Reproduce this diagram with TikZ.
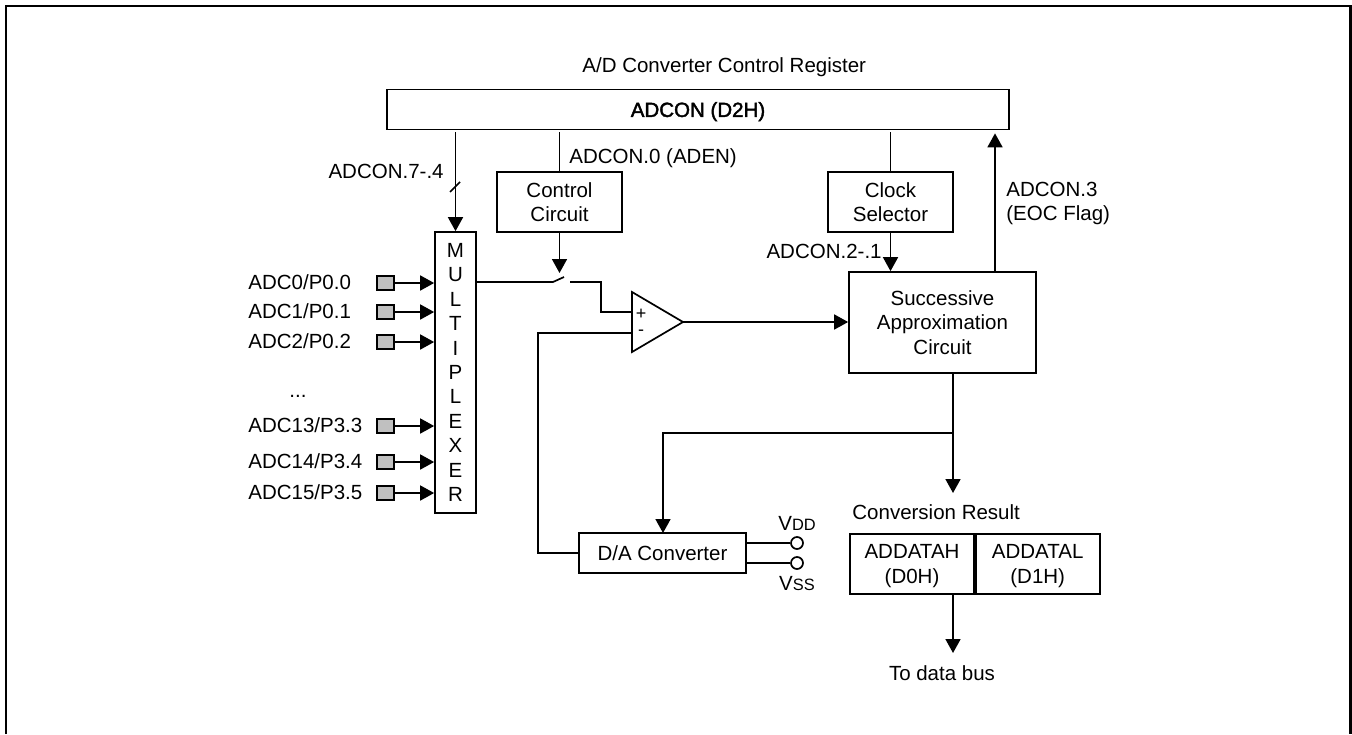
\documentclass[tikz,border=0pt]{standalone}
\usepackage{fontspec}
\setmainfont{Liberation Sans}
\newfontfamily\fakebold[FakeBold=2]{Liberation Sans}
\usetikzlibrary{arrows.meta,positioning}
\definecolor{pingray}{RGB}{192,192,192}
\newcommand{\lowcap}[1]{{\fontsize{8.2}{10}\selectfont #1}}

\begin{document}
\begin{tikzpicture}[
  x=0.5pt, y=-0.5pt,
  font=\fontsize{10.25}{12.2}\selectfont,
  block/.style={rectangle, draw, line width=0.85pt, fill=white, align=center,
                inner sep=0pt, text depth=0pt},
  lbl/.style={inner sep=0pt, align=left, text depth=0pt},
  pin/.style={rectangle, draw, line width=0.85pt, fill=pingray, inner sep=0pt,
              minimum width=8.5pt, minimum height=7pt},
  rail/.style={circle, draw, line width=0.85pt, fill=white, inner sep=0pt,
               minimum size=6pt},
  sign/.style={inner sep=0pt, font=\fontsize{9}{10}\selectfont},
  wire/.style={line width=0.85pt},
  arr/.style={-{Triangle[length=7pt,width=7.5pt]}, line width=0.85pt}
]
\useasboundingbox (0,0) rectangle (1352,734);
% frame, open at the bottom
\draw[line width=1.25pt] (6,734) -- (6,6) -- (1350.5,6) -- (1350.5,734);

% register on top
\node[block, minimum width=311pt, minimum height=20pt] (adcon) at (698,109.5)
  {\fakebold ADCON (D2H)};
\node[lbl, anchor=west] (adconlbl) at (582,65) {A/D Converter Control Register};

% blocks
\node[block, minimum width=20.5pt, minimum height=140.5pt] (mux) at (455.5,372.5)
  {M\\U\\L\\T\\I\\P\\L\\E\\X\\E\\R};
\node[block, minimum width=62.5pt, minimum height=30pt] (ctrl) at (559.5,202)
  {Control\\Circuit};
\node[block, minimum width=62.5pt, minimum height=30pt] (clk) at (890.5,202)
  {Clock\\Selector};
\node[block, minimum width=93.5pt, minimum height=50.5pt] (sac) at (942.5,322.5)
  {Successive\\Approximation\\Circuit};
\node[block, minimum width=83.5pt, minimum height=20pt] (dac) at (662.5,553)
  {D/A Converter};
\node[block, minimum width=62pt, minimum height=30pt] (datah) at (912,564)
  {ADDATAH\\(D0H)};
\node[block, minimum width=62pt, minimum height=30pt, right=0pt of datah] (datal)
  {ADDATAL\\(D1H)};
\node[lbl, anchor=west] (reslbl) at (852,512) {Conversion Result};
\node[lbl] (buslbl) at (942,673) {To data bus};

% comparator
\coordinate (cmpa) at (632,292);
\coordinate (cmpb) at (632,352);
\coordinate (cmpo) at (683,322);
\coordinate (cmpp) at (632,312);
\coordinate (cmpn) at (632,333);
\draw[wire] (cmpa) -- (cmpb) -- (cmpo) -- cycle;
\node[sign] (plus) at (641,314) {+};
\node[sign] (minus) at (641,333) {-};

% switch
\coordinate (swa) at (553,282);
\coordinate (swb) at (564,277);
\coordinate (swc) at (570,282);
\coordinate (swt) at (559.5,273);
\draw[wire] (swa -| mux.east) -- (swa) -- (swb);
\draw[wire] (swc) -- (601,282) -- (601,312) -- (cmpp);

% analog inputs
\foreach \y/\nm/\txt in {283/a/ADC0\slash P0.0, 312/b/ADC1\slash P0.1, 342/c/ADC2\slash P0.2,
    426/d/ADC13\slash P3.3, 462/e/ADC14\slash P3.4, 493/f/ADC15\slash P3.5} {
  \node[pin] (pin\nm) at (385.5,\y) {};
  \node[lbl, anchor=west] (in\nm) at (248,\y-1) {\txt};
  \draw[arr] (pin\nm) -- (pin\nm -| mux.west);
}
\node[lbl] (dots) at (298,396) {...};

% register lines
\draw[arr, shorten <=1pt] (adcon.south -| mux.north) -- (mux.north);
\draw[wire, shorten <=1pt] (adcon.south -| ctrl.north) -- (ctrl.north);
\draw[wire, shorten <=1pt] (adcon.south -| clk.north) -- (clk.north);
\draw[wire] (450,192) -- (460,182);
\node[lbl, anchor=east] (muxlbl) at (444,171) {ADCON.7-.4};
\node[lbl, anchor=west] (enlbl) at (569,156) {ADCON.0 (ADEN)};
\node[lbl, anchor=east] (clklbl) at (882,251) {ADCON.2-.1};
\node[lbl, anchor=west] (eoclbl) at (1006,201.5) {ADCON.3\\(EOC Flag)};

\draw[arr] (ctrl.south) -- (swt);
\draw[arr] (clk.south) -- (clk.south |- sac.north);
\draw[arr, shorten >=1.5pt] (sac.north -| 995,0) -- (adcon.south -| 995,0);
\draw[arr] (cmpo) -- (cmpo -| sac.west);

% feedback to the converter
\coordinate (fork) at (953,433);
\coordinate (restip) at (953,493);
\draw[wire] (cmpn) -- (538,333) -- (538,553) -- (dac.west);
\draw[wire] (fork |- sac.south) -- (fork);
\draw[arr] (fork) -- (restip);
\draw[arr] (fork) -- (663,433) -- (663,533);
\draw[arr] (953,594) -- (953,653);

% reference rails
\node[rail] (vdd) at (797,543) {};
\node[rail] (vss) at (797,563) {};
\node[lbl] (vddlbl) at (797,523) {V\lowcap{DD}};
\node[lbl] (vsslbl) at (797,583) {V\lowcap{SS}};
\draw[wire] (vdd -| dac.east) -- (vdd);
\draw[wire] (vss -| dac.east) -- (vss);
\end{tikzpicture}
\end{document}
